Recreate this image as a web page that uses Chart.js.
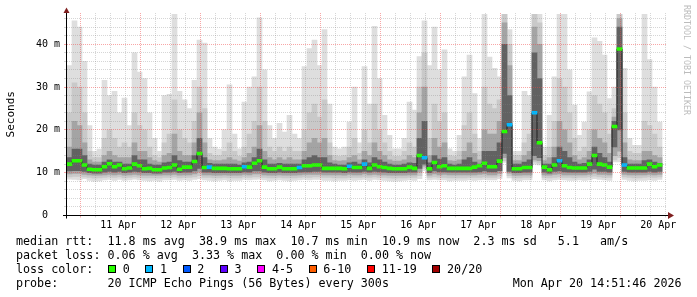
<!DOCTYPE html>
<html><head><meta charset="utf-8">
<script src="https://cdn.jsdelivr.net/npm/chart.js@4.4.1/dist/chart.umd.min.js"></script>
<style>
html,body{margin:0;padding:0;background:#fff;}
#wrap{position:relative;width:697px;height:297px;overflow:hidden;background:#fff;}
canvas{position:absolute;left:0;top:0;}
.t{position:absolute;font-family:'DejaVu Sans Mono',monospace;font-size:11.7px;line-height:14px;white-space:pre;color:#000;}
.box{position:absolute;width:6px;height:6px;border:1px solid #000;}
#wm{position:absolute;left:682px;top:5px;width:9px;writing-mode:vertical-rl;font-family:'DejaVu Sans Mono',monospace;font-size:8.3px;line-height:9px;color:#bcbcbc;white-space:pre;}
</style></head>
<body><div id="wrap"><canvas id="c" width="697" height="297"></canvas>
<div id="wm">RRDTOOL / TOBI OETIKER</div>
<div class="t" style="left:16px;top:234px">median rtt:  11.8 ms avg  38.9 ms max  10.7 ms min  10.9 ms now  2.3 ms sd   5.1   am/s</div>
<div class="t" style="left:16px;top:248px">packet loss: 0.06 % avg  3.33 % max  0.00 % min  0.00 % now</div>
<div class="t" style="left:16px;top:262px">loss color:</div>
<div class="t" style="left:16px;top:276px">probe:       20 ICMP Echo Pings (56 Bytes) every 300s</div>
<div class="t" style="left:512.7px;top:276px">Mon Apr 20 14:51:46 2026</div>
</div>
<script>
// time: hours after 10 Apr 00:00; each sample covers stepHours
const startHour = 15.5;
const stepHours = 2;
const axisMinHour = 15.5, axisMaxHour = 255.5;
const yMax = 47.3;
const dayTicks = ['11 Apr','12 Apr','13 Apr','14 Apr','15 Apr','16 Apr','17 Apr','18 Apr','19 Apr','20 Apr'];
const yTickLabels = ['0  ','10 m','20 m','30 m','40 m'];

// smoke envelope (ms)
const smokeMax = [
 35,45.5,44,36,21,15,15.5,31.6,28,29,
 24,27.4,21,38,33.5,32,24,18,15,28,
 28.3,47,29,27,25,31.6,41,40.3,18,16,
 15.5,20,30.5,19,15.6,26.5,30,32.4,46.2,34,
 21,18,21.5,19.5,23.4,19,18,34.8,39,41,
 35,43.4,26,16,15.6,16,21.8,30,17,34.8,
 26,44.2,32,23.4,18.7,15.6,15.6,18,26.5,24.6,
 37.1,45.5,35,44,34,38.7,15.6,15,18.7,32.4,
 37.5,28.5,18,47,37,34.4,32.4,47,43.4,15,
 15,29,28,47,47,16,23.4,32.4,47,47,
 34,25.8,18.7,21.8,28.9,41.5,40.7,37.5,27.3,30,
 47,34.4,18,16.4,16.4,47,36.4,30,21.8];
const upperMid = [
 24,31,30,24,15,13.5,13.5,18,20,18,
 16,17,16,24,21,20,16,14,13.5,17,
 19,27,20,18,17,22,30,25,14.5,14,
 14,15,17,15,13.8,16,19,22,30,22,
 16,15,16,15,16,15,15,20,24,26,
 23,27,17,14,13.8,14,16,18,14.5,20,
 17,26,20,17,15,13.8,13.8,15,17,16,
 30,38,18,26,22,24,14,13.8,15,21,
 24,19,15,30,26,25,27,47,40,14,
 14,17,19,47,45,14,16,22,32,30,
 24,18,15,16,20,28,26,24,19,25,
 47,24,15,14.5,14.5,22,21,19,16];
const upperDark = [
 16,22,21,17,13,12.5,12.5,14,15,14,
 13.5,13.5,13.5,17,15,15,13.5,12.8,12.5,14,
 14.5,19,15,14,14,17,24,17,13,12.8,
 12.8,13,13.5,13,12.7,13.5,14.5,16,21,15,
 13.5,13,13.5,13,13.5,13,13,15,17,18,
 17,18,14,12.8,12.7,12.8,13.5,14,13,15,
 14,17,15,14,13,12.7,12.7,13,14,13.5,
 24,30,14,18,16,17,12.8,12.7,13,15,
 17,14.5,13,20,19,19,22,45,35,12.8,
 12.8,14,15,44,40,12.8,13.5,16,22,20,
 17,14,13,13.5,15,20,18,17,14.5,23,
 46,17,13,12.8,12.8,15,15,14,13.5];
const coreHi = [
 13.5,15.5,15.5,14,12,11.8,11.8,12.5,13,12.5,
 12.5,12,12,14,13,13,12,11.8,11.8,12.3,
 12.5,14,12.8,12.5,12.5,14,18,13.5,12.2,12,
 12,12,12,12,11.8,12.3,12.5,13.5,15.5,13,
 12,12,12.2,12,12,12,12,13,13.5,14,
 13.5,13.5,12.3,12,11.8,11.8,12.3,12.5,12,13,
 12.3,13.5,13,12.5,12,11.8,11.8,12,12.3,12.2,
 18,22,12.3,14,13.2,13.5,12,11.8,12,13,
 13.5,12.5,12,15,15,15,17,40,28,12,
 12,12.5,13,38,32,12,12,13.5,16,15,
 13.5,12.5,12,12.2,13,16,14.5,13.5,12.5,22,
 44,13.5,12,12,12,12.8,13,12.5,12.2];
const coreLo = [
 10.4,10.5,10.5,10.3,10.0,9.9,9.9,10.1,10.3,10.1,
 10.3,10.0,10.1,10.3,10.2,10.0,10.0,9.9,9.9,10.1,
 10.1,10.3,10.0,10.1,10.1,10.4,11.0,10.1,10.1,10.0,
 10.0,10.0,10.0,10.0,10.0,10.2,10.1,10.4,10.4,10.1,
 10.0,10.0,10.1,10.0,10.0,10.0,10.1,10.2,10.2,10.3,
 10.3,10.1,10.1,10.1,10.1,10.0,10.2,10.1,10.1,10.3,
 10.1,10.3,10.2,10.1,10.0,10.0,10.0,10.0,10.1,10.1,
 11.0,12.0,10.0,10.4,10.2,10.2,10.1,10.1,10.1,10.1,
 10.1,10.1,10.2,10.4,10.2,10.2,10.5,14.5,10.3,10.0,
 10.0,10.1,10.1,14.0,13.5,10.1,9.9,10.3,10.4,10.2,
 10.1,10.1,10.1,10.1,10.3,10.8,10.3,10.3,10.1,16.0,
 20.0,10.3,10.1,10.1,10.1,10.1,10.3,10.1,10.3];
const lowerDark = [
 9.7,9.8,9.8,9.6,9.5,9.4,9.4,9.5,9.6,9.5,
 9.6,9.4,9.5,9.6,9.5,9.4,9.4,9.4,9.4,9.5,
 9.5,9.6,9.4,9.5,9.5,9.7,10.1,9.5,9.5,9.4,
 9.4,9.5,9.4,9.4,9.4,9.6,9.5,9.7,9.7,9.5,
 9.4,9.4,9.5,9.4,9.4,9.4,9.5,9.6,9.6,9.6,
 9.6,9.5,9.5,9.5,9.5,9.4,9.6,9.5,9.5,9.7,
 9.5,9.6,9.5,9.5,9.4,9.4,9.4,9.4,9.5,9.5,
 10.1,11.5,9.4,9.7,9.5,9.6,9.5,9.5,9.5,9.5,
 9.5,9.5,9.6,9.7,9.5,9.5,9.8,13.5,9.9,9.4,
 9.4,9.5,9.5,13.0,12.8,9.5,9.4,9.6,9.7,9.5,
 9.5,9.5,9.5,9.5,9.6,9.9,9.6,9.6,9.5,14.0,
 15.0,9.6,9.5,9.5,9.5,9.5,9.6,9.5,9.6];
const lowerMid = [
 9.0,9.1,9.1,9.0,8.9,8.7,8.8,8.9,9.0,8.9,
 9.0,8.8,8.9,9.0,8.9,8.8,8.8,8.8,8.7,8.9,
 8.9,9.0,8.8,8.9,8.9,9.0,9.3,8.9,8.9,8.8,
 8.8,8.9,8.8,8.8,8.8,9.0,8.9,9.0,9.0,8.9,
 8.8,8.8,8.9,8.8,8.8,8.8,8.9,9.0,8.9,9.0,
 9.0,8.9,8.9,8.8,8.8,8.8,8.9,8.9,8.9,9.0,
 8.9,9.0,8.9,8.9,8.8,8.7,8.8,8.8,8.9,8.9,
 9.3,11.0,8.9,9.0,8.9,8.9,8.8,8.8,8.8,8.8,
 8.9,8.9,8.9,9.0,8.9,8.9,9.2,12.8,9.3,8.8,
 8.8,8.9,8.9,12.5,12.2,8.9,8.8,8.9,9.0,8.9,
 8.9,8.8,8.9,8.9,9.0,9.2,9.0,8.9,8.9,13.0,
 13.5,9.0,8.9,8.8,8.8,8.9,9.0,8.9,9.0];
const smokeMin = [
 8.5,8.4,8.3,8.6,8.2,8.0,8.1,8.3,8.4,8.2,
 8.4,8.2,8.3,8.5,8.3,8.2,8.1,8.2,8.0,8.3,
 8.3,8.4,8.2,8.3,8.2,8.4,8.6,8.3,8.2,8.1,
 8.2,8.3,8.1,8.2,8.2,8.4,8.3,8.4,8.5,8.3,
 8.1,8.2,8.3,8.2,8.1,8.2,8.3,8.4,8.3,8.4,
 8.4,8.2,8.2,8.1,8.2,8.2,8.3,8.2,8.3,8.4,
 8.2,8.4,8.3,8.2,8.1,8.0,8.1,8.2,8.3,8.2,
 8.6,10.5,8.3,8.4,8.3,8.3,8.1,8.2,8.2,8.2,
 8.3,8.2,8.3,8.4,8.3,8.3,8.6,12.4,8.8,8.2,
 8.1,8.3,8.3,12.0,11.8,8.3,8.1,8.3,8.4,8.3,
 8.2,8.2,8.3,8.2,8.3,8.6,8.4,8.3,8.2,12.5,
 12.5,8.4,8.2,8.1,8.2,8.2,8.3,8.2,8.4];
// median rtt (ms) and lost pings (of 20)
const median = [
 12.0,12.8,12.8,11.8,10.8,10.7,10.7,11.4,12.1,11.4,
 11.8,10.9,11.1,12.0,11.6,10.9,11.0,10.7,10.7,11.1,
 11.2,11.8,10.8,11.3,11.3,12.6,14.5,11.2,11.3,11.0,
 11.0,11.0,10.9,10.9,10.9,11.4,11.3,12.2,12.8,11.3,
 10.9,10.9,11.3,10.9,10.9,10.9,11.2,11.6,11.6,11.8,
 11.8,11.0,11.0,11.0,11.0,10.9,11.5,11.2,11.2,12.0,
 11.0,11.8,11.4,11.2,11.0,10.9,10.9,10.9,11.3,11.0,
 14.0,13.5,10.9,12.4,11.4,11.6,11.0,11.0,11.0,11.0,
 11.0,11.3,11.6,12.2,11.4,11.4,12.7,19.6,21.2,10.9,
 10.9,11.2,11.2,24.0,17.0,11.3,10.7,11.8,12.8,11.6,
 11.2,11.1,11.1,11.1,12.0,14.0,12.0,11.8,11.3,20.8,
 38.9,11.8,11.1,11.1,11.1,11.1,12.0,11.4,11.8];
const loss = [
 0,0,0,0,0,0,0,0,0,0, 0,0,0,0,0,0,0,0,0,0,
 0,0,0,0,0,0,0,0,1,0, 0,0,0,0,0,1,0,0,0,0,
 0,0,0,0,0,0,1,0,0,0, 0,0,0,0,0,0,1,0,0,1,
 0,0,0,0,0,0,0,0,0,0, 0,1,0,0,0,0,0,0,0,0,
 0,0,0,0,0,0,0,0,1,0, 0,0,0,1,0,0,0,0,1,0,
 0,0,0,0,0,0,0,0,0,0, 0,1,0,0,0,0,0,0,0];
const lossLabels = ['0','1','2','3','4-5','6-10','11-19','20/20'];
const lossColors = ['#26ff00','#00b8ff','#0059ff','#5e00ff','#ff00ff','#ff5e00','#ff0000','#a10000'];
const lossUpper = [0,1,2,3,5,10,19,20];

function lossClass(n){ for (let i=0;i<lossUpper.length;i++) if (n<=lossUpper[i]) return i; return lossUpper.length-1; }
const xs = median.map((_, i) => startHour + stepHours * (i + 0.5));
const band = (lo, hi) => xs.map((x, i) => ({x, y: [lo[i], hi[i]]}));
const medHalf = 0.34;

const majorGrid = 'rgba(240,70,70,0.48)';
const minorGrid = 'rgba(130,130,130,0.33)';
const monoFont = 'DejaVu Sans Mono';

const axesPlugin = {
  id: 'axes',
  afterDraw(chart) {
    const {ctx, chartArea: a} = chart;
    ctx.save();
    ctx.strokeStyle = '#000'; ctx.lineWidth = 1; ctx.setLineDash([]);
    ctx.beginPath();
    ctx.moveTo(63, a.bottom); ctx.lineTo(a.right + 1, a.bottom);
    ctx.moveTo(a.left - 0.5, a.bottom + 3); ctx.lineTo(a.left - 0.5, 11);
    ctx.stroke();
    ctx.fillStyle = '#7f1f1f';
    ctx.beginPath();
    ctx.moveTo(a.left - 0.5, 7.5); ctx.lineTo(a.left - 3.5, 13); ctx.lineTo(a.left + 2.5, 13); ctx.closePath(); ctx.fill();
    ctx.beginPath();
    ctx.moveTo(a.right + 7, a.bottom); ctx.lineTo(a.right + 1, a.bottom - 3.5); ctx.lineTo(a.right + 1, a.bottom + 3.5); ctx.closePath(); ctx.fill();
    ctx.restore();
  }
};

const barCommon = {type: 'bar', grouped: false, barPercentage: 1, categoryPercentage: 1, borderWidth: 0};

new Chart(document.getElementById('c'), {
  type: 'bar',
  data: {
    datasets: [
      Object.assign({label: 'smoke 1', data: band(smokeMin, smokeMax), backgroundColor: '#dedede', order: 6}, barCommon),
      Object.assign({label: 'smoke 2', data: band(lowerMid, upperMid), backgroundColor: '#c9c9c9', order: 5}, barCommon),
      Object.assign({label: 'smoke 3', data: band(lowerDark, upperDark), backgroundColor: '#a4a4a4', order: 4}, barCommon),
      Object.assign({label: 'smoke 4', data: band(coreLo, coreHi), backgroundColor: '#626262', order: 3}, barCommon),
      {type: 'line', label: 'median', data: xs.map((x, i) => ({x, y: median[i]})), borderColor: '#202020', borderWidth: 1, stepped: 'middle', pointRadius: 0, order: 2},
      Object.assign({label: 'median loss', data: xs.map((x, i) => ({x, y: [median[i] - medHalf, median[i] + medHalf]})),
        backgroundColor: loss.map(n => lossColors[lossClass(n)]), order: 1}, barCommon)
    ]
  },
  options: {
    responsive: false, animation: false, devicePixelRatio: 1,
    layout: {padding: {left: 0, top: 13, right: 30, bottom: 0}},
    plugins: {legend: {display: false}, tooltip: {enabled: false}},
    scales: {
      x: {
        type: 'linear', min: axisMinHour, max: axisMaxHour, offset: false,
        afterBuildTicks: s => { const t = []; for (let h = 18; h < axisMaxHour; h += 6) t.push({value: h}); s.ticks = t; },
        afterFit: s => { s.height = 81.5; },
        grid: {z: 1, lineWidth: 1, tickLength: 2, tickBorderDash: [],
          color: c => (c.tick && c.tick.value % 24 === 0) ? majorGrid : minorGrid},
        border: {display: false, dash: [1, 1]},
        ticks: {autoSkip: false, maxRotation: 0, minRotation: 0, padding: 1.5, color: '#000',
          font: {family: monoFont, size: 10},
          callback: v => (v % 24 === 12) ? dayTicks[(v - 36) / 24] : ''}
      },
      y: {
        min: 0, max: yMax,
        afterBuildTicks: s => { const t = []; for (let v = 0; v < yMax; v += 2) t.push({value: v}); s.ticks = t; },
        afterFit: s => { s.width = 67; },
        grid: {z: 1, lineWidth: 1, tickLength: 3, tickBorderDash: [],
          color: c => (c.tick && c.tick.value % 10 === 0) ? majorGrid : minorGrid},
        border: {display: false, dash: [1, 1]},
        title: {display: true, text: 'Seconds', color: '#000', font: {family: monoFont, size: 11}, padding: {top: 4.4, bottom: 0}},
        ticks: {autoSkip: false, padding: 4, color: '#000', font: {family: monoFont, size: 10},
          callback: v => (v % 10 === 0) ? yTickLabels[v / 10] : ''}
      }
    }
  },
  plugins: [axesPlugin]
});

// loss colour legend boxes
const wrap = document.getElementById('wrap');
let lx = 108;
lossLabels.forEach((lab, i) => {
  const b = document.createElement('div');
  b.className = 'box';
  b.style.left = lx + 'px'; b.style.top = '265px'; b.style.background = lossColors[i];
  wrap.appendChild(b);
  const t = document.createElement('div');
  t.className = 't';
  t.style.left = (lx + 14.7) + 'px'; t.style.top = '262px';
  t.textContent = lab;
  wrap.appendChild(t);
  lx += 37.3 + 7.03 * (lab.length - 1);
});
</script>
</body></html>
